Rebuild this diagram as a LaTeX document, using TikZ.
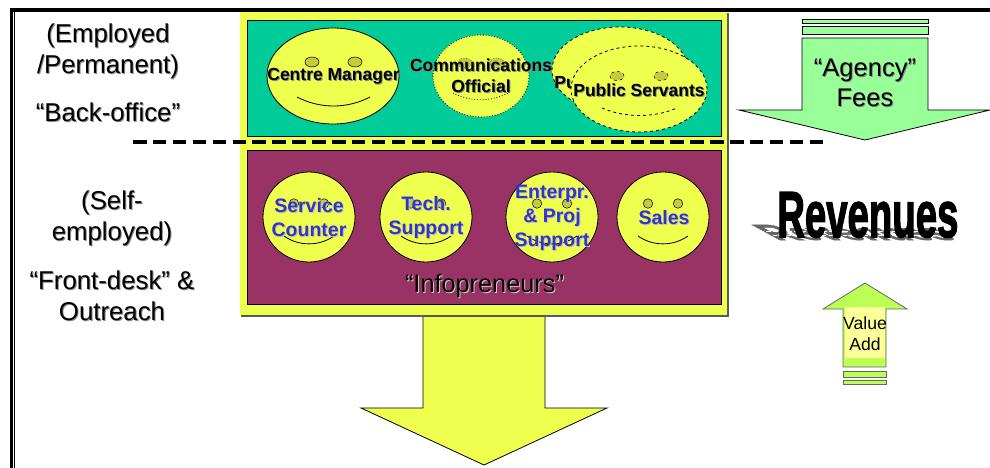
\documentclass[tikz,border=0pt]{standalone}
\usepackage{fontspec}
\setmainfont{Liberation Sans}
\newfontfamily\revfont[FakeBold=2.5]{Liberation Sans}
\usetikzlibrary{shapes.geometric}

\definecolor{panelyellow}{HTML}{EEFF4D}
\definecolor{eyeolive}{HTML}{C4CC3D}
\definecolor{backgreen}{HTML}{00CC99}
\definecolor{frontmaroon}{HTML}{993366}
\definecolor{feegreen}{HTML}{99FF99}
\definecolor{valuegreen}{HTML}{BBFF55}
\definecolor{valuepale}{HTML}{FFFF99}
\definecolor{nameblue}{HTML}{3333CC}

\newcommand{\shd}[2][black!45]{\leavevmode\rlap{\raisebox{-1pt}{\hspace{1pt}\textcolor{#1}{#2}}}#2}

\tikzset{
    sidetext/.style={inner sep=0pt,align=center,font=\fontsize{25.8}{31}\selectfont},
    staffname/.style={inner sep=0pt,align=center,font=\bfseries\fontsize{17.5}{21}\selectfont},
    infoname/.style={inner sep=0pt,align=center,text=nameblue,font=\bfseries\fontsize{19.5}{24}\selectfont},
    face/.style={shape=ellipse,draw=black,fill=panelyellow,inner sep=0pt},
    eye/.style={shape=ellipse,draw=black,fill=eyeolive,line width=.5pt,inner sep=0pt}
}

\begin{document}
\begin{tikzpicture}[x=1pt,y=-1pt,line width=.8pt]
    \useasboundingbox (0,0) rectangle (990,468);

    % frame
    \node[fill=black,minimum width=980,minimum height=4,inner sep=0pt,anchor=north west] (topbar) at (10,8) {};
    \node[fill=black,minimum width=2.5,minimum height=456,inner sep=0pt,anchor=north west] (leftouter) at (10,12) {};
    \node[fill=black,minimum width=1,minimum height=456,inner sep=0pt,anchor=north west] (leftinner) at (13.5,12) {};

    % big arrow below the panel
    \draw[fill=panelyellow] (423,316) -- (545,316) -- (545,408) -- (607,408) -- (484,465) -- (361,408) -- (423,408) -- cycle;

    % panel
    \node[fill=black!65,minimum width=488,minimum height=304,inner sep=0pt,anchor=north west] (panelshade) at (241,13) {};
    \node[fill=panelyellow,minimum width=487,minimum height=303,inner sep=0pt,anchor=north west] (panel) at (240,12) {};
    \node[draw=black,fill=backgreen,minimum width=474,minimum height=116,inner sep=0pt,anchor=north west] (backoffice) at (247,20) {};
    \node[draw=black,fill=frontmaroon,minimum width=474,minimum height=154,inner sep=0pt,anchor=north west] (frontdesk) at (247,150) {};

    % back-office faces
    \node[face,minimum width=132,minimum height=96] (manager) at (333,76) {};
    \node[eye,minimum width=14,minimum height=10] (managerL) at (312,62) {};
    \node[eye,minimum width=14,minimum height=10] (managerR) at (355,62) {};
    \draw (297,97) .. controls (320,109) and (347,109) .. (370,97);
    \node[staffname] (managerT) at (333.5,77) {\shd{Centre Manager}};

    \node[face,dotted,minimum width=96,minimum height=82] (official) at (481,76) {};
    \node[eye,dotted,minimum width=14,minimum height=10] (officialL) at (465,63) {};
    \node[eye,dotted,minimum width=14,minimum height=10] (officialR) at (497,63) {};
    \draw[dotted] (453,93) .. controls (470,102) and (491,102) .. (508,93);
    \node[staffname] (officialT) at (481,76.5) {\shd{Communications}\\\shd{Official}};

    \node[face,dashed,minimum width=136,minimum height=86] (servantB) at (620,70) {};
    \node[staffname] (servantBT) at (620,83) {\shd{Public Servants}};
    \node[face,dashed,minimum width=136,minimum height=86] (servantF) at (639,89) {};
    \node[eye,dashed,minimum width=14,minimum height=9] (servantL) at (617,76) {};
    \node[eye,dashed,minimum width=14,minimum height=9] (servantR) at (661,76) {};
    \draw[dashed] (602,108) .. controls (625,118) and (654,118) .. (677,108);
    \node[staffname] (servantFT) at (639,90.5) {\shd{Public Servants}};

    % infopreneur faces
    \foreach \name/\cx in {service/309,tech/426,enterprise/552,sales/663} {
        \node[face,minimum width=92,minimum height=90] (\name) at (\cx,217) {};
        \node[eye,minimum width=9.5,minimum height=9.5] (\name L) at (\cx-15,203.5) {};
        \node[eye,minimum width=9.5,minimum height=9.5] (\name R) at (\cx+15,203.5) {};
        \draw (\cx-25,236) .. controls (\cx-10,246.5) and (\cx+10,246.5) .. (\cx+25,236);
    }
    \node[infoname] (serviceT) at (309,218) {\shd[black!25]{Service}\\\shd[black!25]{Counter}};
    \node[infoname] (techT) at (426,218) {\shd[black!25]{Tech.}\\\shd[black!25]{Support}};
    \node[infoname] (enterpriseT) at (552,218) {\shd[black!25]{Enterpr.}\\\shd[black!25]{\& Proj}\\\shd[black!25]{Support}};
    \node[infoname] (salesT) at (664,218) {\shd[black!25]{Sales}};
    \node[sidetext,font=\fontsize{25.3}{30}\selectfont] (infopreneurs) at (484.5,286) {\shd[white!80!black]{“Infopreneurs”}};

    % divider
    \coordinate (dashL) at (133,142);
    \coordinate (dashR) at (826,142);
    \draw[line width=4pt,dash pattern=on 13.5pt off 6.4pt] (dashL) -- (dashR);

    % side labels
    \node[sidetext] (employed) at (108,52) {\shd{(Employed}\\\shd{/Permanent)}};
    \node[sidetext] (backlabel) at (108,113) {\shd{“Back-office”}};
    \node[sidetext] (selfemp) at (112,219) {\shd{(Self-}\\\shd{employed)}};
    \node[sidetext] (frontlabel) at (112,296) {\shd{“Front-desk” \&}\\\shd{Outreach}};

    % agency fees arrow
    \node[draw=black,fill=feegreen,minimum width=126,minimum height=4.5,inner sep=0pt] (feebarA) at (865,21.5) {};
    \node[draw=black,fill=feegreen,minimum width=126,minimum height=8,inner sep=0pt] (feebarB) at (865,30.7) {};
    \draw[fill=feegreen] (802,38) -- (928,38) -- (928,110) -- (990,110) -- (865,140) -- (739,110) -- (802,110) -- cycle;
    \node[sidetext,font=\fontsize{25.5}{30}\selectfont] (fees) at (865,83) {\shd{“Agency”}\\\shd{Fees}};

    % revenues
    \node[anchor=base west,inner sep=0pt,text=black!60,cm={.59,0,-.62,.34,(0,0)},transform shape,font=\revfont\bfseries\fontsize{65}{65}\selectfont] (revshadow) at (777,240) {Revenues};
    \coordinate (ripA) at (752,231);
    \coordinate (ripB) at (950,231);
    \coordinate (ripC) at (752,235.5);
    \coordinate (ripD) at (950,235.5);
    \draw[white,line width=.7pt,dash pattern=on 5pt off 2pt] (ripA) -- (ripB);
    \draw[white,line width=.7pt,dash pattern=on 4pt off 3pt] (ripC) -- (ripD);
    \node[anchor=base west,inner sep=0pt,xscale=.59,transform shape,font=\revfont\bfseries\fontsize{65}{65}\selectfont] (revenues) at (777,237) {Revenues};

    % value add arrow
    \draw[fill=valuegreen,draw=black!60] (843,367) -- (843,309) -- (823,309) -- (865,283) -- (907,309) -- (886,309) -- (886,367) -- cycle;
    \node[fill=valuepale,minimum width=40,minimum height=51,inner sep=0pt,anchor=north west] (valuepatch) at (845,307) {};
    \node[draw=black!60,fill=valuegreen,minimum width=43,minimum height=6,inner sep=0pt] (valuebarA) at (864.5,374) {};
    \node[draw=black!60,fill=valuegreen,minimum width=43,minimum height=4,inner sep=0pt] (valuebarB) at (864.5,382) {};
    \node[inner sep=0pt,align=center,font=\fontsize{17.6}{21}\selectfont] (valueadd) at (865,334) {Value\\Add};
\end{tikzpicture}
\end{document}
